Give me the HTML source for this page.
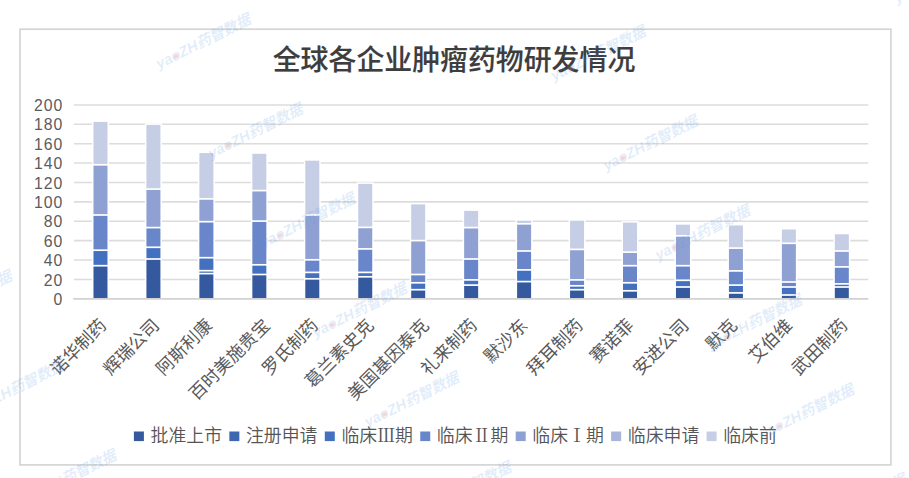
<!DOCTYPE html>
<html lang="zh-CN"><head><meta charset="utf-8"><title>全球各企业肿瘤药物研发情况</title>
<style>html,body{margin:0;padding:0;background:#fff;}body{width:909px;height:478px;overflow:hidden;}svg{display:block;}.cj{font-family:"Liberation Sans","Noto Sans CJK SC",sans-serif;}.ax{font-family:"Liberation Sans","Noto Sans CJK SC",sans-serif;font-size:15.8px;letter-spacing:1px;fill:#5c5c5c;}.lb{font-family:"Liberation Sans","Noto Sans CJK SC",sans-serif;font-size:17.6px;font-weight:400;fill:#595959;}.lg{font-family:"Liberation Serif","Noto Sans CJK SC",sans-serif;font-size:17.9px;font-weight:350;fill:#555;}.tt{font-family:"Liberation Sans","Noto Sans CJK SC",sans-serif;font-size:27.9px;font-weight:500;fill:#3d3d3d;stroke:#3d3d3d;stroke-width:0.15px;}.wm{font-family:"Liberation Sans","Noto Sans CJK SC",sans-serif;font-size:14.7px;font-weight:700;font-style:italic;fill:#5a9be6;fill-opacity:0.19;}.wo{fill:#f06a6a;}.rn{font-family:"Noto Serif CJK SC",serif;font-weight:400;}</style></head><body>
<svg width="909" height="478" viewBox="0 0 909 478">
<rect x="0" y="0" width="909" height="478" fill="#fff"/>
<rect x="20.0" y="29.2" width="870.9" height="435.7" fill="none" stroke="#d5d5d5" stroke-width="1.7"/>
<text class="tt" x="454" y="70.3" text-anchor="middle">全球各企业肿瘤药物研发情况</text>
<g stroke="#dcdcdc" stroke-width="1.55">
<line x1="74.0" y1="279.41" x2="868.3" y2="279.41"/>
<line x1="74.0" y1="260.02" x2="868.3" y2="260.02"/>
<line x1="74.0" y1="240.63" x2="868.3" y2="240.63"/>
<line x1="74.0" y1="221.24" x2="868.3" y2="221.24"/>
<line x1="74.0" y1="201.85" x2="868.3" y2="201.85"/>
<line x1="74.0" y1="182.46" x2="868.3" y2="182.46"/>
<line x1="74.0" y1="163.07" x2="868.3" y2="163.07"/>
<line x1="74.0" y1="143.68" x2="868.3" y2="143.68"/>
<line x1="74.0" y1="124.29" x2="868.3" y2="124.29"/>
<line x1="74.0" y1="104.90" x2="868.3" y2="104.90"/>
</g>
<g class="ax" text-anchor="end">
<text x="63.3" y="304.90">0</text>
<text x="63.3" y="285.51">20</text>
<text x="63.3" y="266.12">40</text>
<text x="63.3" y="246.73">60</text>
<text x="63.3" y="227.34">80</text>
<text x="63.3" y="207.95">100</text>
<text x="63.3" y="188.56">120</text>
<text x="63.3" y="169.17">140</text>
<text x="63.3" y="149.78">160</text>
<text x="63.3" y="130.39">180</text>
<text x="63.3" y="111.00">200</text>
</g>
<rect x="91.98" y="120.40" width="17.00" height="178.40" fill="#fff"/>
<rect x="93.48" y="266.55" width="14.0" height="31.75" fill="#35599e"/>
<rect x="93.48" y="251.05" width="14.0" height="13.80" fill="#4470c0"/>
<rect x="93.48" y="215.85" width="14.0" height="33.50" fill="#6886c9"/>
<rect x="93.48" y="165.65" width="14.0" height="48.50" fill="#8fa1d3"/>
<rect x="93.48" y="121.90" width="14.0" height="42.05" fill="#c6cee6"/>
<rect x="144.93" y="123.40" width="17.00" height="175.40" fill="#fff"/>
<rect x="146.43" y="259.85" width="14.0" height="38.45" fill="#35599e"/>
<rect x="146.43" y="248.15" width="14.0" height="10.00" fill="#4470c0"/>
<rect x="146.43" y="228.45" width="14.0" height="18.00" fill="#6886c9"/>
<rect x="146.43" y="189.95" width="14.0" height="36.80" fill="#8fa1d3"/>
<rect x="146.43" y="124.90" width="14.0" height="63.35" fill="#c6cee6"/>
<rect x="197.88" y="151.60" width="17.00" height="147.20" fill="#fff"/>
<rect x="199.38" y="274.45" width="14.0" height="23.85" fill="#35599e"/>
<rect x="199.38" y="271.55" width="14.0" height="1.20" fill="#3d67b1"/>
<rect x="199.38" y="258.55" width="14.0" height="11.30" fill="#4470c0"/>
<rect x="199.38" y="222.55" width="14.0" height="34.30" fill="#6886c9"/>
<rect x="199.38" y="199.75" width="14.0" height="21.10" fill="#8fa1d3"/>
<rect x="199.38" y="153.10" width="14.0" height="44.95" fill="#c6cee6"/>
<rect x="250.84" y="152.30" width="17.00" height="146.50" fill="#fff"/>
<rect x="252.34" y="275.35" width="14.0" height="22.95" fill="#35599e"/>
<rect x="252.34" y="265.65" width="14.0" height="8.00" fill="#4470c0"/>
<rect x="252.34" y="221.95" width="14.0" height="42.00" fill="#6886c9"/>
<rect x="252.34" y="191.45" width="14.0" height="28.80" fill="#8fa1d3"/>
<rect x="252.34" y="153.80" width="14.0" height="35.95" fill="#c6cee6"/>
<rect x="303.79" y="159.20" width="17.00" height="139.60" fill="#fff"/>
<rect x="305.29" y="279.65" width="14.0" height="18.65" fill="#35599e"/>
<rect x="305.29" y="273.25" width="14.0" height="4.70" fill="#4470c0"/>
<rect x="305.29" y="260.65" width="14.0" height="10.90" fill="#6886c9"/>
<rect x="305.29" y="215.85" width="14.0" height="43.10" fill="#8fa1d3"/>
<rect x="305.29" y="160.70" width="14.0" height="53.45" fill="#c6cee6"/>
<rect x="356.74" y="182.40" width="17.00" height="116.40" fill="#fff"/>
<rect x="358.24" y="277.65" width="14.0" height="20.65" fill="#35599e"/>
<rect x="358.24" y="273.25" width="14.0" height="2.70" fill="#4470c0"/>
<rect x="358.24" y="249.75" width="14.0" height="21.80" fill="#6886c9"/>
<rect x="358.24" y="228.25" width="14.0" height="19.80" fill="#8fa1d3"/>
<rect x="358.24" y="183.90" width="14.0" height="42.65" fill="#c6cee6"/>
<rect x="409.70" y="202.90" width="17.00" height="95.90" fill="#fff"/>
<rect x="411.20" y="290.55" width="14.0" height="7.75" fill="#35599e"/>
<rect x="411.20" y="283.65" width="14.0" height="5.20" fill="#4470c0"/>
<rect x="411.20" y="275.35" width="14.0" height="6.60" fill="#6886c9"/>
<rect x="411.20" y="241.45" width="14.0" height="32.20" fill="#8fa1d3"/>
<rect x="411.20" y="204.40" width="14.0" height="35.35" fill="#c6cee6"/>
<rect x="462.65" y="209.40" width="17.00" height="89.40" fill="#fff"/>
<rect x="464.15" y="285.95" width="14.0" height="12.35" fill="#35599e"/>
<rect x="464.15" y="280.75" width="14.0" height="3.50" fill="#4470c0"/>
<rect x="464.15" y="259.85" width="14.0" height="19.20" fill="#6886c9"/>
<rect x="464.15" y="228.45" width="14.0" height="29.70" fill="#8fa1d3"/>
<rect x="464.15" y="210.90" width="14.0" height="15.85" fill="#c6cee6"/>
<rect x="515.60" y="219.20" width="17.00" height="79.60" fill="#fff"/>
<rect x="517.10" y="282.45" width="14.0" height="15.85" fill="#35599e"/>
<rect x="517.10" y="270.75" width="14.0" height="10.00" fill="#4470c0"/>
<rect x="517.10" y="251.85" width="14.0" height="17.20" fill="#6886c9"/>
<rect x="517.10" y="224.65" width="14.0" height="25.50" fill="#8fa1d3"/>
<rect x="517.10" y="220.70" width="14.0" height="2.25" fill="#c6cee6"/>
<rect x="568.56" y="219.20" width="17.00" height="79.60" fill="#fff"/>
<rect x="570.06" y="290.55" width="14.0" height="7.75" fill="#35599e"/>
<rect x="570.06" y="286.65" width="14.0" height="2.20" fill="#4470c0"/>
<rect x="570.06" y="280.75" width="14.0" height="4.20" fill="#6886c9"/>
<rect x="570.06" y="250.25" width="14.0" height="28.80" fill="#8fa1d3"/>
<rect x="570.06" y="220.70" width="14.0" height="27.85" fill="#c6cee6"/>
<rect x="621.51" y="221.10" width="17.00" height="77.70" fill="#fff"/>
<rect x="623.01" y="291.65" width="14.0" height="6.65" fill="#35599e"/>
<rect x="623.01" y="283.65" width="14.0" height="6.30" fill="#4470c0"/>
<rect x="623.01" y="266.55" width="14.0" height="15.40" fill="#6886c9"/>
<rect x="623.01" y="252.95" width="14.0" height="11.90" fill="#8fa1d3"/>
<rect x="623.01" y="222.60" width="14.0" height="28.65" fill="#c6cee6"/>
<rect x="674.46" y="223.20" width="17.00" height="75.60" fill="#fff"/>
<rect x="675.96" y="287.85" width="14.0" height="10.45" fill="#35599e"/>
<rect x="675.96" y="281.15" width="14.0" height="5.00" fill="#4470c0"/>
<rect x="675.96" y="266.55" width="14.0" height="12.90" fill="#6886c9"/>
<rect x="675.96" y="236.65" width="14.0" height="28.20" fill="#8fa1d3"/>
<rect x="675.96" y="224.70" width="14.0" height="10.25" fill="#c6cee6"/>
<rect x="727.42" y="224.00" width="17.00" height="74.80" fill="#fff"/>
<rect x="728.92" y="293.75" width="14.0" height="4.55" fill="#35599e"/>
<rect x="728.92" y="285.95" width="14.0" height="6.10" fill="#4470c0"/>
<rect x="728.92" y="271.75" width="14.0" height="12.50" fill="#6886c9"/>
<rect x="728.92" y="248.95" width="14.0" height="21.10" fill="#8fa1d3"/>
<rect x="728.92" y="225.50" width="14.0" height="21.75" fill="#c6cee6"/>
<rect x="780.37" y="228.00" width="17.00" height="70.80" fill="#fff"/>
<rect x="781.87" y="295.85" width="14.0" height="2.45" fill="#35599e"/>
<rect x="781.87" y="287.85" width="14.0" height="6.30" fill="#4470c0"/>
<rect x="781.87" y="282.85" width="14.0" height="3.30" fill="#6886c9"/>
<rect x="781.87" y="244.15" width="14.0" height="37.00" fill="#8fa1d3"/>
<rect x="781.87" y="229.50" width="14.0" height="12.95" fill="#c6cee6"/>
<rect x="833.32" y="232.80" width="17.00" height="66.00" fill="#fff"/>
<rect x="834.82" y="287.85" width="14.0" height="10.45" fill="#35599e"/>
<rect x="834.82" y="284.75" width="14.0" height="1.40" fill="#4470c0"/>
<rect x="834.82" y="267.75" width="14.0" height="15.30" fill="#6886c9"/>
<rect x="834.82" y="251.85" width="14.0" height="14.20" fill="#8fa1d3"/>
<rect x="834.82" y="234.30" width="14.0" height="15.85" fill="#c6cee6"/>
<line x1="73.2" y1="298.8" x2="868.3" y2="298.8" stroke="#d2d2d2" stroke-width="1.7"/>
<g class="lb" text-anchor="end">
<text transform="translate(103.08,322.1) rotate(-45)" y="6.2">诺华制药</text>
<text transform="translate(156.03,322.1) rotate(-45)" y="6.2">辉瑞公司</text>
<text transform="translate(208.98,322.1) rotate(-45)" y="6.2">阿斯利康</text>
<text transform="translate(266.74,322.1) rotate(-45)" y="6.2">百时美施贵宝</text>
<text transform="translate(314.89,322.1) rotate(-45)" y="6.2">罗氏制药</text>
<text transform="translate(370.24,322.1) rotate(-45)" y="6.2">葛兰素史克</text>
<text transform="translate(425.60,322.1) rotate(-45)" y="6.2">美国基因泰克</text>
<text transform="translate(473.75,322.1) rotate(-45)" y="6.2">礼来制药</text>
<text transform="translate(524.30,322.1) rotate(-45)" y="6.2">默沙东</text>
<text transform="translate(579.66,322.1) rotate(-45)" y="6.2">拜耳制药</text>
<text transform="translate(630.21,322.1) rotate(-45)" y="6.2">赛诺菲</text>
<text transform="translate(685.56,322.1) rotate(-45)" y="6.2">安进公司</text>
<text transform="translate(733.72,322.1) rotate(-45)" y="6.2">默克</text>
<text transform="translate(789.07,322.1) rotate(-45)" y="6.2">艾伯维</text>
<text transform="translate(844.42,322.1) rotate(-45)" y="6.2">武田制药</text>
</g>
<g class="lg">
<rect x="133.90" y="431.5" width="10" height="9.6" fill="#35599e"/>
<text x="150.50" y="441.8">批准上市</text>
<rect x="229.35" y="431.5" width="10" height="9.6" fill="#3d67b1"/>
<text x="245.95" y="441.8">注册申请</text>
<rect x="324.80" y="431.5" width="10" height="9.6" fill="#4470c0"/>
<text x="341.40" y="441.8">临床<tspan class="rn">Ⅲ</tspan>期</text>
<rect x="420.25" y="431.5" width="10" height="9.6" fill="#6886c9"/>
<text x="436.85" y="441.8">临床<tspan class="rn">Ⅱ</tspan>期</text>
<rect x="515.70" y="431.5" width="10" height="9.6" fill="#8fa1d3"/>
<text x="532.30" y="441.8">临床<tspan class="rn">Ⅰ</tspan>期</text>
<rect x="611.15" y="431.5" width="10" height="9.6" fill="#a9b5dc"/>
<text x="627.75" y="441.8">临床申请</text>
<rect x="706.60" y="431.5" width="10" height="9.6" fill="#c6cee6"/>
<text x="723.20" y="441.8">临床前</text>
</g>
<g class="wm">
<text transform="translate(-35.7,297.6) rotate(-26.5)" text-anchor="middle" y="5.5">yaoZH药智数据</text>
<circle transform="translate(-35.7,297.6) rotate(-26.5)" cx="-31" cy="1.6" r="2.1" fill="#f26d6d" fill-opacity="0.3"/>
<text transform="translate(16.4,387.2) rotate(-26.5)" text-anchor="middle" y="5.5">yaoZH药智数据</text>
<circle transform="translate(16.4,387.2) rotate(-26.5)" cx="-31" cy="1.6" r="2.1" fill="#f26d6d" fill-opacity="0.3"/>
<text transform="translate(68.5,476.8) rotate(-26.5)" text-anchor="middle" y="5.5">yaoZH药智数据</text>
<circle transform="translate(68.5,476.8) rotate(-26.5)" cx="-31" cy="1.6" r="2.1" fill="#f26d6d" fill-opacity="0.3"/>
<text transform="translate(203.0,41.0) rotate(-26.5)" text-anchor="middle" y="5.5">yaoZH药智数据</text>
<circle transform="translate(203.0,41.0) rotate(-26.5)" cx="-31" cy="1.6" r="2.1" fill="#f26d6d" fill-opacity="0.3"/>
<text transform="translate(255.1,130.6) rotate(-26.5)" text-anchor="middle" y="5.5">yaoZH药智数据</text>
<circle transform="translate(255.1,130.6) rotate(-26.5)" cx="-31" cy="1.6" r="2.1" fill="#f26d6d" fill-opacity="0.3"/>
<text transform="translate(307.2,220.1) rotate(-26.5)" text-anchor="middle" y="5.5">yaoZH药智数据</text>
<circle transform="translate(307.2,220.1) rotate(-26.5)" cx="-31" cy="1.6" r="2.1" fill="#f26d6d" fill-opacity="0.3"/>
<text transform="translate(359.3,309.6) rotate(-26.5)" text-anchor="middle" y="5.5">yaoZH药智数据</text>
<circle transform="translate(359.3,309.6) rotate(-26.5)" cx="-31" cy="1.6" r="2.1" fill="#f26d6d" fill-opacity="0.3"/>
<text transform="translate(411.4,399.2) rotate(-26.5)" text-anchor="middle" y="5.5">yaoZH药智数据</text>
<circle transform="translate(411.4,399.2) rotate(-26.5)" cx="-31" cy="1.6" r="2.1" fill="#f26d6d" fill-opacity="0.3"/>
<text transform="translate(463.5,488.8) rotate(-26.5)" text-anchor="middle" y="5.5">yaoZH药智数据</text>
<circle transform="translate(463.5,488.8) rotate(-26.5)" cx="-31" cy="1.6" r="2.1" fill="#f26d6d" fill-opacity="0.3"/>
<text transform="translate(545.9,-36.5) rotate(-26.5)" text-anchor="middle" y="5.5">yaoZH药智数据</text>
<circle transform="translate(545.9,-36.5) rotate(-26.5)" cx="-31" cy="1.6" r="2.1" fill="#f26d6d" fill-opacity="0.3"/>
<text transform="translate(598.0,53.0) rotate(-26.5)" text-anchor="middle" y="5.5">yaoZH药智数据</text>
<circle transform="translate(598.0,53.0) rotate(-26.5)" cx="-31" cy="1.6" r="2.1" fill="#f26d6d" fill-opacity="0.3"/>
<text transform="translate(650.1,142.6) rotate(-26.5)" text-anchor="middle" y="5.5">yaoZH药智数据</text>
<circle transform="translate(650.1,142.6) rotate(-26.5)" cx="-31" cy="1.6" r="2.1" fill="#f26d6d" fill-opacity="0.3"/>
<text transform="translate(702.2,232.1) rotate(-26.5)" text-anchor="middle" y="5.5">yaoZH药智数据</text>
<circle transform="translate(702.2,232.1) rotate(-26.5)" cx="-31" cy="1.6" r="2.1" fill="#f26d6d" fill-opacity="0.3"/>
<text transform="translate(754.3,321.6) rotate(-26.5)" text-anchor="middle" y="5.5">yaoZH药智数据</text>
<circle transform="translate(754.3,321.6) rotate(-26.5)" cx="-31" cy="1.6" r="2.1" fill="#f26d6d" fill-opacity="0.3"/>
<text transform="translate(806.4,411.2) rotate(-26.5)" text-anchor="middle" y="5.5">yaoZH药智数据</text>
<circle transform="translate(806.4,411.2) rotate(-26.5)" cx="-31" cy="1.6" r="2.1" fill="#f26d6d" fill-opacity="0.3"/>
<text transform="translate(858.5,500.8) rotate(-26.5)" text-anchor="middle" y="5.5">yaoZH药智数据</text>
<circle transform="translate(858.5,500.8) rotate(-26.5)" cx="-31" cy="1.6" r="2.1" fill="#f26d6d" fill-opacity="0.3"/>
<text transform="translate(940.9,-24.5) rotate(-26.5)" text-anchor="middle" y="5.5">yaoZH药智数据</text>
<circle transform="translate(940.9,-24.5) rotate(-26.5)" cx="-31" cy="1.6" r="2.1" fill="#f26d6d" fill-opacity="0.3"/>
</g>
</svg></body></html>
